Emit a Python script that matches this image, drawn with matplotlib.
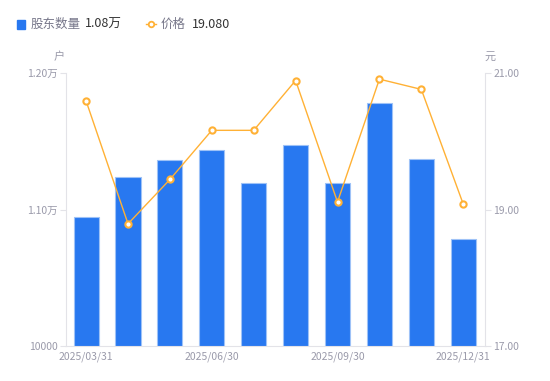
import matplotlib
matplotlib.use("Agg")
import numpy as np
from matplotlib import pyplot as plt
from matplotlib.lines import Line2D
from matplotlib.patches import Rectangle

plt.rcParams['font.family'] = ['Noto Sans CJK SC', 'DejaVu Sans']

# --- data
dates = ["2025/03/31", "2025/04/30", "2025/05/31", "2025/06/30", "2025/07/31",
         "2025/08/31", "2025/09/30", "2025/10/31", "2025/11/30", "2025/12/31"]
holders = [10945, 11240, 11360, 11434, 11196, 11475, 11192, 11778, 11368, 10784]
price = [20.59, 18.79, 19.44, 20.16, 20.16, 20.89, 19.11, 20.91, 20.76, 19.08]

left_ticks = [10000, 11000, 12000]
left_labels = ["10000", "1.10万", "1.20万"]
right_ticks = [17.0, 19.0, 21.0]

BLUE = "#2878F0"
ORANGE = "#FFB135"
GRID = "#E3E3E8"
TXT = "#9A9AAA"
DARK = "#333333"

fig = plt.figure(figsize=(5.5, 3.81), dpi=100)
ax = fig.add_axes([66 / 550, 1 - 346 / 381, (485 - 66) / 550, (346 - 73) / 381])
ax2 = ax.twinx()

# --- bars (shareholders) on the left axis
x = np.arange(len(dates))
ax.bar(x, holders, width=0.6, color=BLUE, edgecolor="#9EC2F7", linewidth=0.8, zorder=2)
ax.set_xlim(-0.48, len(dates) - 0.48)
ax.set_ylim(10000, 12000)
ax.set_yticks(left_ticks)
ax.set_yticklabels(left_labels)

# --- price line on the right axis
ax2.plot(x, price, color=ORANGE, lw=1, marker="o", ms=4.5, mfc="white",
         mec=ORANGE, mew=1.5, zorder=3)
ax2.set_ylim(17, 21)
ax2.set_yticks(right_ticks)
ax2.set_yticklabels([f"{v:.2f}" for v in right_ticks])

ax.set_xticks(x[::3])
ax.set_xticklabels(dates[::3])

for a in (ax, ax2):
    for s in a.spines.values():
        s.set_visible(False)
    a.tick_params(axis="y", colors=GRID, labelcolor=TXT, labelsize=7.5, length=4, width=0.8, pad=2)
    a.tick_params(axis="x", length=0, labelcolor=TXT, labelsize=7.5, pad=4)
for a, side in ((ax, "left"), (ax, "bottom"), (ax2, "right")):
    a.spines[side].set_visible(True)
    a.spines[side].set_color(GRID)
ax2.set_zorder(ax.get_zorder() + 1)

# --- unit labels
fig.text(59 / 550, 1 - 57 / 381, "户", color=TXT, fontsize=8, ha="center", va="center")
fig.text(490 / 550, 1 - 57 / 381, "元", color=TXT, fontsize=8, ha="center", va="center")

# --- legend row
ly = 1 - 24 / 381
fig.patches.append(Rectangle((17 / 550, 1 - 29 / 381), 8 / 550, 9 / 381,
                             transform=fig.transFigure, color=BLUE, figure=fig))
fig.text(31 / 550, ly, "股东数量", color="#77778A", fontsize=9, va="center")
fig.text(85 / 550, ly, "1.08万", color=DARK, fontsize=9, va="center")
fig.lines.append(Line2D([146 / 550, 156 / 550], [ly, ly], transform=fig.transFigure,
                        color=ORANGE, lw=1, figure=fig))
fig.lines.append(Line2D([151 / 550], [ly], transform=fig.transFigure, lw=0,
                        marker="o", ms=4, mfc="white", mec=ORANGE, mew=1.3, figure=fig))
fig.text(161 / 550, ly, "价格", color="#77778A", fontsize=9, va="center")
fig.text(192 / 550, ly, "19.080", color=DARK, fontsize=9, va="center")

fig.savefig("out.png", dpi=100)
